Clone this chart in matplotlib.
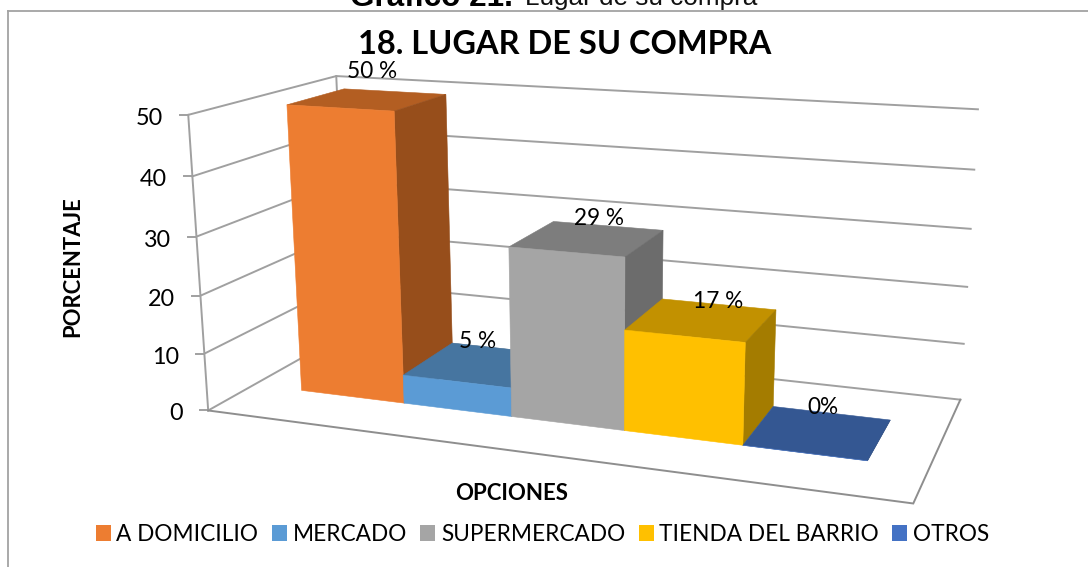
import numpy as np
import matplotlib
matplotlib.use("Agg")
import matplotlib.pyplot as plt
from matplotlib.patches import Polygon, Patch

# ---------- data ----------
categories = ["A DOMICILIO", "MERCADO", "SUPERMERCADO", "TIENDA DEL BARRIO", "OTROS"]
values = [50, 5, 29, 17, 0]
value_labels = ["50 %", "5 %", "29 %", "17 %", "0%"]
y_ticks = [0, 10, 20, 30, 40, 50]
front_colors = ["#ED7D31", "#5B9BD5", "#A5A5A5", "#FFC000", "#4472C4"]
top_colors = ["#B35E22", "#4675A0", "#7D7D7D", "#C29100", "#345792"]
side_colors = ["#974E1B", "#3B6488", "#6C6C6C", "#A47C00", "#2C4A7C"]
title_text = "18. LUGAR DE SU COMPRA"
y_title = "PORCENTAJE"
x_title = "OPCIONES"

# ---------- camera: model (x, depth, value) -> figure pixel ----------
X_SPAN = 5.0
V_MAX = 50.0
calib_model = [(0, 0, 0), (5, 0, 0), (0, 1, 0), (5, 1, 0),
               (0, 0, 50), (0, 1, 50), (5, 1, 50),
               (0, 0, 10), (5, 1, 10), (0, 0, 30), (5, 1, 30)]
calib_pixel = [(207, 411), (913.5, 503), (348.7, 332), (959.3, 400),
               (189.4, 115), (335, 76), (978, 109),
               (204, 353), (964.5, 344), (196.7, 237), (970.7, 229)]


def fit_camera(model, pixel):
    rows = []
    for (x, d, v), (px, py) in zip(model, pixel):
        p = [x, d, v, 1.0]
        rows.append(p + [0, 0, 0, 0] + [-px * c for c in p])
        rows.append([0, 0, 0, 0] + p + [-py * c for c in p])
    return np.linalg.svd(np.array(rows, float))[2][-1].reshape(3, 4)


CAM = fit_camera(calib_model, calib_pixel)


def project(x, d, v):
    q = CAM @ np.array([x, d, v, 1.0])
    return q[0] / q[2], q[1] / q[2]


plt.rcParams["font.family"] = ["Lato", "DejaVu Sans"]
fig = plt.figure(figsize=(10.88, 5.67), dpi=100)
ax = fig.add_axes([0, 0, 1, 1])
ax.set_xlim(0, 1088)
ax.set_ylim(567, 0)
ax.axis("off")

# chart frame
FRAME = "#A3A3A3"
ax.plot([7.5, 7.5], [567, 10.5], color=FRAME, lw=1.3)
ax.plot([7.5, 1088], [10.5, 10.5], color=FRAME, lw=1.3)

# clipped caption of the page above the chart
ax.text(350, 5.5, "Gráfico 21.", family="Liberation Sans", fontweight="bold",
        fontsize=22.7, va="baseline", ha="left", color="black")
ax.text(525, 5, "Lugar de su compra", family="Liberation Sans",
        fontsize=18.8, va="baseline", ha="left", color="#111111")

# walls and floor
GRID = "#A0A0A0"
LW = 1.4
for v in y_ticks:
    pts = [project(0, 0, v), project(0, 1, v), project(X_SPAN, 1, v)]
    ax.plot(*zip(*pts), color=GRID, lw=LW, solid_joinstyle="miter", zorder=1)
    fx, fy = project(0, 0, v)
    ax.plot([fx - 8, fx], [fy, fy], color=GRID, lw=LW, zorder=1)
    ax.text(fx - 25.5, fy + 3.5, str(v), ha="right", va="center", fontsize=16.8, color="black")
for d in (0, 1):
    pts = [project(0, d, 0), project(0, d, V_MAX)]
    ax.plot(*zip(*pts), color=GRID, lw=LW, zorder=1)
floor = [project(0, 0, 0), project(X_SPAN, 0, 0), project(X_SPAN, 1, 0)]
ax.plot(*zip(*floor), color="#8E8E8E", lw=LW, solid_joinstyle="miter", zorder=1)

# bars, painted left to right
X0, BAR_W, D0, D1 = 0.40, 0.84, 0.30, 0.705
label_offsets = [(-22, -20), (-25, -7), (-8.5, -7), (0, -3), (-8.5, -6)]
for i, val in enumerate(values):
    x0, x1 = X0 + i * BAR_W, X0 + (i + 1) * BAR_W
    faces = [
        ([(x0, D0, val), (x1, D0, val), (x1, D1, val), (x0, D1, val)], top_colors[i]),
        ([(x1, D0, 0), (x1, D1, 0), (x1, D1, val), (x1, D0, val)], side_colors[i]),
        ([(x0, D0, 0), (x1, D0, 0), (x1, D0, val), (x0, D0, val)], front_colors[i]),
    ]
    for corners, colour in faces:
        ax.add_patch(Polygon([project(*c) for c in corners], closed=True, fc=colour,
                             ec=colour, lw=0.4, zorder=2 + i))
    cx, cy = project((x0 + x1) / 2, D1, val)
    dx, dy = label_offsets[i]
    ax.text(cx + dx, cy + dy, value_labels[i], ha="center", va="center",
            fontsize=16.3, color="black", zorder=10)

# titles
ax.text(564.5, 44, title_text, ha="center", va="center", fontsize=23.4, fontweight="bold", zorder=10)
ax.text(72.5, 266.5, y_title, rotation=90, ha="center", va="center", fontsize=15.9, fontweight="bold")
ax.text(511.5, 494, x_title, ha="center", va="center", fontsize=16, fontweight="bold")

# legend
handles = [Patch(fc=c, ec="none") for c in front_colors]
ax.legend(handles, categories, ncol=5, loc="center", bbox_to_anchor=(542.5 / 1088, 1 - 534.5 / 567),
          bbox_transform=fig.transFigure, frameon=False, fontsize=16.25,
          handlelength=0.66, handleheight=0.7, handletextpad=0.25, columnspacing=0.6,
          borderpad=0, borderaxespad=0)

fig.savefig("out.png", dpi=100)
